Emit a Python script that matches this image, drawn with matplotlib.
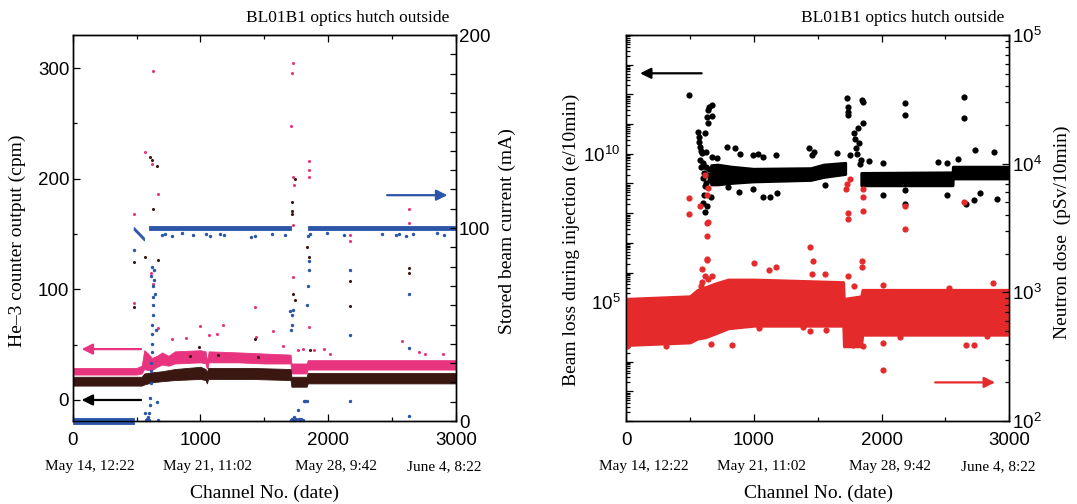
import numpy as np
import matplotlib
matplotlib.use('Agg')
import matplotlib.pyplot as plt
from matplotlib.ticker import MultipleLocator, LogLocator, FuncFormatter, NullFormatter
from matplotlib.transforms import blended_transform_factory

plt.rcParams['font.family'] = ['Liberation Sans', 'DejaVu Sans']
plt.rcParams['mathtext.default'] = 'regular'
SERIF = 'Liberation Serif'

PINK = '#e8347f'
BROWN = '#3b1712'
BLUE = '#2b55a8'
RED = '#e42a2a'

# ---------------- left panel: He-3 counters (cpm) + stored current (mA) ----------------
pink_band_ch = [0, 500, 540, 560, 590, 620, 660, 700, 750, 800, 1000, 1040, 1048, 1056, 1064, 1300, 1500, 1705, 1712, 1830, 1840, 3000]
pink_band_lo = [23, 23, 24, 28, 27, 27, 30, 32, 31, 33, 34, 33, 29, 29, 34, 34, 33, 33, 24, 24, 27.5, 27.5]
pink_band_hi = [29, 29, 31, 45, 42, 38, 40, 43, 40, 44, 45, 44, 38, 38, 44, 43, 42, 41, 33, 33, 36, 36]

brown_band_ch = [0, 540, 560, 620, 700, 800, 1000, 1040, 1050, 1060, 1400, 1705, 1712, 1830, 1840, 3000]
brown_band_lo = [13, 13, 14, 16, 17, 18, 19, 18, 15, 19, 19, 18, 12, 12, 15, 15]
brown_band_hi = [21, 21, 24, 25, 26, 28, 30, 28, 25, 29, 29, 28, 21, 21, 24.5, 24.5]

blue_band_ch = [0, 480, 480.5, 481, 562, 580, 600, 1712, 1780, 1842, 3000]
blue_band_lo = [-1.5, -1.5, np.nan, 98.8, 93.3, np.nan, 99.2, 99.2, np.nan, 99.2, 99.2]
blue_band_hi = [1.5, 1.5, np.nan, 100.3, 94.8, np.nan, 100.8, 100.8, np.nan, 100.8, 100.8]

pink_out_ch = [481, 481, 562, 630, 624, 665, 616, 630, 665, 778, 885, 993, 1068, 1133, 1176, 1424, 1438, 1567, 1644, 1712,
               1715, 1726, 1726, 1728, 1728, 1734, 1760, 1800, 1847, 1847, 1847, 1849, 1887, 1963, 2014, 2173, 2173, 2577,
               2636, 2636, 2713, 2758, 2901]
pink_out_val = [168.6, 88, 224, 297, 213, 186, 114.5, 105, 65, 55, 56, 67, 59, 60, 68, 84, 57, 62, 49, 248,
                296, 305, 158, 202, 111, 194, 45, 46, 216, 208, 202, 66, 45, 46, 41.5, 149, 144, 53,
                172.5, 160, 43.6, 42, 41.5]

brown_out_ch = [481, 481, 568, 608, 624, 662, 630, 665, 920, 988, 1140, 1424, 1453, 1715, 1715, 1720, 1728, 1739, 1739,
                1836, 1847, 1857, 2173, 2173, 2636, 2636]
brown_out_val = [124.7, 83.7, 129, 220, 217, 212, 173, 127, 40, 48, 41, 55, 39, 171, 168, 178.6, 96, 90, 200,
                 138, 129.5, 45, 107.5, 85, 119.5, 114.5]

blue_out_ch = [481, 568, 572, 578, 584, 590, 596, 600, 604, 608, 610, 612, 616, 618, 620, 622, 624, 626, 628, 630,
               632, 616, 620, 636, 640, 645, 650, 660, 670,
               1702, 1707, 1715, 1720, 1728, 1707, 1715, 1722, 1730, 1740, 1750, 1761, 1770, 1780, 1790, 1800,
               1814, 1822, 1830, 1836, 1842, 1847, 1847, 1842,
               2173, 2173, 2170, 2636, 2636, 2630,
               696, 723, 778, 859, 939, 1047, 1074, 1155, 1182, 1397, 1424, 1559, 1665, 1855, 1990, 2124, 2421,
               2529, 2556, 2610, 2664, 2852, 2906]
blue_out_val = [88.6, 4, 0.5, 1, 0.5, 2, 0.5, 4, 8.3, 12, 19.5, 26, 30, 36, 40, 45, 50, 55, 60, 64,
                70, 75, 80, 73, 78, 66, 47, 10, 0.5,
                57, 47, 49.7, 55, 57.5, 0.5, 1, 0.5, 2, 0.5, 1, 5.7, 1, 0.5, 1, 0.5,
                10.4, 10.4, 10.4, 60, 70, 78, 83, 96,
                78, 44.6, 10.4, 66, 37.6, 2.4,
                96.5, 97, 96, 97.5, 96.5, 97, 96, 97, 96.5, 95.5, 96, 97, 96.5, 97, 97.5, 96.5, 97,
                96.5, 97, 96, 97, 97.5, 96.5]

left_dates = ['May 14, 12:22', 'May 21, 11:02', 'May 28, 9:42', 'June 4, 8:22']
left_date_pos = [135, 1053, 2063, 2910]

# ---------------- right panel: beam loss (e/10min) + neutron dose (pSv/10min), log10 ----------------
black_band_ch = [670, 720, 830, 1000, 1450, 1550, 1720, 1780, 1845, 2560, 2562, 3000]
black_band_lo = [8.95, 8.95, 9.0, 9.05, 9.1, 9.2, 9.3, np.nan, 8.92, 8.92, 9.15, 9.15]
black_band_hi = [9.6, 9.62, 9.55, 9.48, 9.5, 9.62, 9.68, np.nan, 9.34, 9.36, 9.55, 9.55]

red_band_ch = [0, 500, 560, 620, 700, 800, 1000, 1700, 1705, 1840, 1850, 3000]
red_band_lo = [2.59, 2.61, 2.64, 2.65, 2.68, 2.72, 2.74, 2.74, 2.58, 2.58, 2.67, 2.67]
red_band_hi = [2.95, 2.97, 3.02, 3.04, 3.07, 3.1, 3.1, 3.08, 2.95, 2.97, 3.02, 3.02]

black_out_ch = [491, 564, 570, 580, 596, 580, 590, 610, 603, 618, 631, 613, 618, 626, 636, 644, 652, 672, 672, 639,
                623, 664, 672, 712, 787, 801, 882, 855, 895, 995, 1035, 995, 1070, 1074, 1177, 1183, 1129, 1433, 1473, 1452,
                1554, 1654, 1729, 1734, 1739, 1739, 1756, 1782, 1815, 1823, 1847, 1855, 1855, 1829, 1904, 2012, 2012,
                2183, 2183, 2183, 2183, 2441, 2514, 2514, 2649, 2649, 2729, 2662, 2721, 2770, 2877, 2904, 2595,
                575, 585, 600, 605, 615, 625, 640, 650, 660, 1790, 1800, 1810, 1840]
black_out_log = [11.98, 10.74, 10.58, 10.24, 10.02, 9.79, 9.57, 9.34, 8.33, 8.05, 8.24, 8.61, 10.69, 10.07, 11.25, 11.47,
                 11.59, 11.64, 11.27, 11.03, 9.57, 8.56, 9.90, 9.85, 10.24, 8.89, 8.72, 10.19, 9.99, 9.96, 9.99, 8.80,
                 8.56, 9.90, 9.96, 8.67, 8.56, 10.19, 10.07, 9.96, 8.95, 10.02, 11.87, 11.59, 11.42, 11.31, 9.96, 10.69,
                 10.86, 10.35, 11.81, 11.76, 11.03, 9.65, 9.76, 9.68, 8.61, 11.72, 11.31, 8.78, 8.31, 9.73, 9.70, 8.61,
                 11.90, 11.20, 10.13, 8.31, 8.44, 8.69, 10.07, 8.48, 9.82,
                 10.4, 10.1, 9.7, 9.2, 8.9, 9.0, 9.3, 9.5, 9.1, 10.5, 10.2, 10.0, 9.8]

red_out_ch = [491, 491, 580, 618, 639, 636, 639, 636, 631, 631, 631, 596, 618, 593, 672, 1000, 1116, 1177, 1438, 1460,
              1452, 1554, 1739, 1721, 1726, 1756, 1739, 1739, 1855, 1855, 1855, 1850, 1850, 1782, 2183, 2183, 2012, 2649,
              2527, 2872, 5, 314, 664, 833, 2012, 2012, 1855, 1773, 2662, 2721, 2829, 2146, 1385, 1441, 946, 1038,
              1565, 2353, 2420, 560, 590, 640, 600]
red_out_log = [3.73, 3.61, 3.67, 3.91, 3.81, 3.76, 3.55, 3.54, 3.44, 3.26, 3.25, 3.18, 3.13, 3.08, 3.13, 3.23, 3.17, 3.20,
               3.35, 3.24, 3.14, 3.14, 3.13, 3.80, 3.84, 3.88, 3.62, 3.57, 3.80, 3.74, 3.63, 3.24, 3.20, 3.05, 3.67,
               3.49, 3.06, 3.70, 3.03, 3.07, 2.58, 2.58, 2.60, 2.59, 2.40, 2.61, 2.58, 2.59, 2.59, 2.59, 2.66, 2.65,
               2.73, 2.70, 2.78, 2.72, 2.71, 2.71, 2.71, 3.0, 3.05, 3.1, 2.95]

right_dates = left_dates
right_date_pos = [141, 1057, 2068, 2914]

W, H = 1077, 504
fig = plt.figure(figsize=(W / 100, H / 100), dpi=100)


def px_axes(x0, x1, y0, y1):
    return fig.add_axes([x0 / W, 1 - y1 / H, (x1 - x0) / W, (y1 - y0) / H])


def style_ticks(ax):
    ax.tick_params(which='both', direction='in', labelsize=13.5, width=0.9)
    ax.tick_params(which='major', length=5)
    ax.tick_params(which='minor', length=3)
    for s in ax.spines.values():
        s.set_linewidth(1.0)


# ---- left panel ----
axL = px_axes(72.7, 456, 35, 421)
axLr = axL.twinx()

axL.fill_between(pink_band_ch, pink_band_lo, pink_band_hi, color=PINK, lw=0.6)
axL.fill_between(brown_band_ch, brown_band_lo, brown_band_hi, color=BROWN, lw=0.6)
axL.scatter(pink_out_ch, pink_out_val, s=5, color=PINK, lw=0)
axL.scatter(brown_out_ch, brown_out_val, s=5, color=BROWN, lw=0)
axLr.fill_between(blue_band_ch, blue_band_lo, blue_band_hi, color=BLUE, lw=0.6, clip_on=False)
axLr.scatter(blue_out_ch, blue_out_val, s=6, color=BLUE, lw=0, clip_on=False)

axL.set_xlim(0, 3000)
axL.set_ylim(-19, 330)
axLr.set_ylim(0, 200)
axL.xaxis.set_major_locator(MultipleLocator(1000))
axL.xaxis.set_minor_locator(MultipleLocator(500))
axL.yaxis.set_major_locator(MultipleLocator(100))
axL.yaxis.set_minor_locator(MultipleLocator(50))
axLr.yaxis.set_major_locator(MultipleLocator(100))
axLr.yaxis.set_minor_locator(MultipleLocator(10))
style_ticks(axL)
style_ticks(axLr)
axL.tick_params(which='both', top=True, right=False)
axL.tick_params(axis='x', pad=8)
axL.tick_params(axis='y', pad=2.5)
axLr.tick_params(axis='y', which='both', pad=2, length=4.5)

axL.annotate('', xy=(70, 46), xytext=(535, 46),
             arrowprops=dict(arrowstyle='-|>', color=PINK, lw=1.6, mutation_scale=16, shrinkA=0, shrinkB=0))
axL.annotate('', xy=(70, 0), xytext=(535, 0),
             arrowprops=dict(arrowstyle='-|>', color='black', lw=1.6, mutation_scale=16, shrinkA=0, shrinkB=0))
axLr.annotate('', xy=(2932, 117), xytext=(2461, 117),
              arrowprops=dict(arrowstyle='-|>', color=BLUE, lw=1.6, mutation_scale=16, shrinkA=0, shrinkB=0))

trL = blended_transform_factory(axL.transData, axL.transAxes)
for lab, pos in zip(left_dates, left_date_pos):
    axL.text(pos, -0.119, lab, transform=trL, ha='center', va='center', fontsize=11, family=SERIF)
axL.text(0.982, 1.044, 'BL01B1 optics hutch outside', transform=axL.transAxes, ha='right', va='center',
         fontsize=12.5, family=SERIF)

# ---- right panel ----
axR = px_axes(626, 1009.3, 35, 421)
axRr = axR.twinx()
axR.set_yscale('log')
axRr.set_yscale('log')

axR.fill_between(black_band_ch, 10 ** np.array(black_band_lo), 10 ** np.array(black_band_hi), color='black', lw=2)
axR.scatter(black_out_ch, 10 ** np.array(black_out_log), s=20, color='black', lw=0)
axRr.fill_between(red_band_ch, 10 ** np.array(red_band_lo), 10 ** np.array(red_band_hi), color=RED, lw=2)
axRr.scatter(red_out_ch, 10 ** np.array(red_out_log), s=20, color=RED, lw=0)

axR.set_xlim(0, 3000)
axR.set_ylim(1e1, 1e14)
axRr.set_ylim(1e2, 1e5)
axR.xaxis.set_major_locator(MultipleLocator(1000))
axR.xaxis.set_minor_locator(MultipleLocator(500))
axR.yaxis.set_major_locator(LogLocator(base=10, numticks=30))
axR.yaxis.set_minor_locator(LogLocator(base=10, subs=np.arange(2, 10), numticks=30))
axR.yaxis.set_major_formatter(FuncFormatter(
    lambda v, p: r'$10^{%d}$' % round(np.log10(v)) if round(np.log10(v)) in (5, 10) else ''))
axR.yaxis.set_minor_formatter(NullFormatter())
axRr.yaxis.set_major_locator(LogLocator(base=10, numticks=10))
axRr.yaxis.set_minor_locator(LogLocator(base=10, subs=np.arange(2, 10), numticks=10))
axRr.yaxis.set_major_formatter(FuncFormatter(lambda v, p: r'$10^{%d}$' % round(np.log10(v))))
axRr.yaxis.set_minor_formatter(NullFormatter())
style_ticks(axR)
style_ticks(axRr)
axR.tick_params(which='both', top=True, right=False)
axR.tick_params(axis='x', pad=8)
axR.tick_params(axis='y', pad=4)
axRr.tick_params(axis='y', pad=2)

axR.annotate('', xy=(110, 10 ** 12.71), xytext=(592, 10 ** 12.71),
             arrowprops=dict(arrowstyle='-|>', color='black', lw=1.6, mutation_scale=16, shrinkA=0, shrinkB=0))
axRr.annotate('', xy=(2888, 10 ** 2.30), xytext=(2420, 10 ** 2.30),
              arrowprops=dict(arrowstyle='-|>', color=RED, lw=1.6, mutation_scale=16, shrinkA=0, shrinkB=0))

trR = blended_transform_factory(axR.transData, axR.transAxes)
for lab, pos in zip(right_dates, right_date_pos):
    axR.text(pos, -0.119, lab, transform=trR, ha='center', va='center', fontsize=11, family=SERIF)
axR.text(0.986, 1.044, 'BL01B1 optics hutch outside', transform=axR.transAxes, ha='right', va='center',
         fontsize=12.5, family=SERIF)

# ---- axis titles ----
lab_kw = dict(ha='center', va='center', fontsize=14, family=SERIF)
fig.text(17 / W, 1 - 241 / H, 'He\u20133 counter output (cpm)', rotation=90, **lab_kw)
fig.text(507 / W, 1 - 231 / H, 'Stored beam current (mA)', rotation=90, **lab_kw)
fig.text(264 / W, 1 - 493 / H, 'Channel No. (date)', **lab_kw)
fig.text(571 / W, 1 - 240 / H, 'Beam loss during injection (e/10min)', rotation=90, **lab_kw)
fig.text(1062 / W, 1 - 232 / H, 'Neutron dose  (pSv/10min)', rotation=90, **lab_kw)
fig.text(819 / W, 1 - 493 / H, 'Channel No. (date)', **lab_kw)

fig.savefig('out.png', dpi=100)
